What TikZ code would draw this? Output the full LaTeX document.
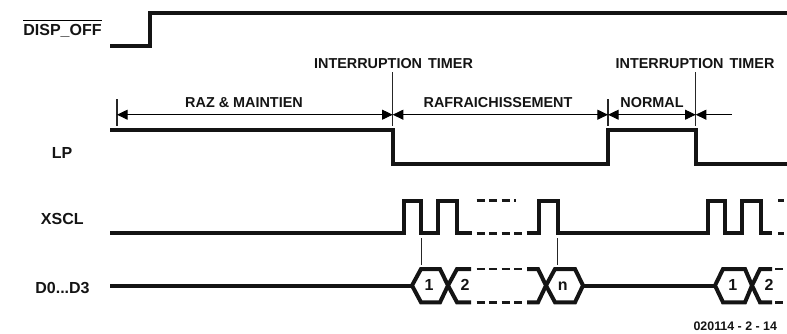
\documentclass[tikz,border=0pt]{standalone}
\usepackage{fontspec}
\setmainfont{Liberation Sans}
\usetikzlibrary{arrows.meta}
\tikzset{
  x=0.75pt,y=-0.75pt,
  signal/.style={line width=3pt,miter limit=10,line join=miter,black!92},
  hexline/.style={line width=3pt,line join=miter,black!92},
  dashline/.style={line width=1.9pt,dash pattern=on 6pt off 3.4pt,black!90},
  thin line/.style={line width=0.8pt,black!85},
  dim/.style={line width=0.7pt,black,{Triangle[length=8pt,width=7.5pt]}-{Triangle[length=8pt,width=7.5pt]}},
  dimright/.style={line width=0.7pt,black,{Triangle[length=8pt,width=7.5pt]}-},
  lab/.style={font=\bfseries\fontsize{10.8pt}{12pt}\selectfont,inner sep=0pt,anchor=base,text=black!92},
  biglab/.style={lab,font=\bfseries\fontsize{12pt}{14pt}\selectfont},
}
\begin{document}
\begin{tikzpicture}
\useasboundingbox (0,0) rectangle (787,333);
% time coordinates
\coordinate (t0) at (117,114.7);
\coordinate (t1) at (392.7,114.7);
\coordinate (t2) at (608,114.7);
\coordinate (t3) at (695.7,114.7);
\coordinate (t4) at (732,114.7);
% labels
\node[biglab] (disp) at (62.5,35) {DISP\_OFF};
\draw[line width=0.8pt] ([yshift=2.6pt]disp.north west) -- ([yshift=2.6pt]disp.north east);
\node[biglab] (lp) at (62,158) {LP};
\node[biglab] (xscl) at (62.3,224) {XSCL};
\node[biglab] (d0) at (62.5,293) {D0...D3};
\node[lab] (it1) at (393.5,68) {INTERRUPTION\ \hspace{1.5pt}TIMER};
\node[lab] (it2) at (695,68) {INTERRUPTION\ \hspace{1.5pt}TIMER};
\node[lab] (raz) at (244,107) {RAZ \& MAINTIEN};
\node[lab] (raf) at (498,107) {RAFRAICHISSEMENT};
\node[lab] (nor) at (652,107) {NORMAL};
\node[lab,font=\bfseries\fontsize{9.3pt}{11pt}\selectfont] (ref) at (735.3,330) {020114 - 2 - 14};
\node[biglab] (h1) at (429,290.7) {1};
\node[biglab] (h2) at (465,290.7) {2};
\node[biglab] (hn) at (562.7,290.7) {n};
\node[biglab] (h3) at (732.7,290.7) {1};
\node[biglab] (h4) at (769,290.7) {2};
% signals
\draw[signal] (110,45.7) -- (150,45.7) -- (150,12.7) -- (787,12.7);
\draw[signal] (110,130) -- (392.7,130) -- (392.7,164) -- (608,164) -- (608,130) -- (695.7,130) -- (695.7,164) -- (787,164);
\draw[signal] (110,233.3) -- (404,233.3) -- (404,200.7) -- (421.3,200.7) -- (421.3,233.3) -- (438,233.3) -- (438,200.7) -- (457,200.7) -- (457,233.3) -- (472,233.3);
\draw[signal] (526.7,233.3) -- (539,233.3) -- (539,200.7) -- (557.7,200.7) -- (557.7,233.3) -- (708,233.3) -- (708,200.7) -- (725,200.7) -- (725,233.3) -- (741.7,233.3) -- (741.7,200.7) -- (761,200.7) -- (761,233.3) -- (772,233.3);
% dashes
\draw[dashline] (476.5,200.7) -- (516,200.7);
\draw[dashline] (476.5,233.3) -- (526,233.3);
\draw[dashline] (476.5,269) -- (526,269);
\draw[dashline] (476.5,302.3) -- (526,302.3);
\draw[dashline] (778,200.7) -- (784,200.7);
\draw[dashline] (778,233.3) -- (784,233.3);
\draw[dashline] (775,269) -- (784,269);
\draw[dashline] (775,302.3) -- (784,302.3);
% bus
\draw[signal] (110,285.5) -- (412,285.5);
\draw[hexline] (471,269) -- (457,269) -- (448,285.5) -- (440,302.3) -- (421,302.3) -- (412,285.5) -- (421,269) -- (440,269) -- (448,285.5) -- (457,302.3) -- (471,302.3);
\draw[hexline] (527,269) -- (538,269) -- (546,285.5) -- (555,302.3) -- (575,302.3) -- (583,285.5) -- (575,269) -- (555,269) -- (546,285.5) -- (538,302.3) -- (527,302.3);
\draw[signal] (583,285.5) -- (715,285.5);
\draw[hexline] (772,269) -- (760,269) -- (752,285.5) -- (745,302.3) -- (723,302.3) -- (715,285.5) -- (723,269) -- (745,269) -- (752,285.5) -- (760,302.3) -- (772,302.3);
% thin verticals
\draw[thin line] (421.7,238) -- (421.7,265);
\draw[thin line] (557.7,238) -- (557.7,265);
% dimension ticks
\draw[thin line] (117,99) -- (117,126);
\draw[thin line] (392.7,72) -- (392.7,126);
\draw[thin line] (608,99) -- (608,126);
\draw[thin line] (695.7,72) -- (695.7,126);
% dimension arrows
\draw[dim] (t0) -- (t1);
\draw[dim] (t1) -- (t2);
\draw[dim] (t2) -- (t3);
\draw[dimright] (t3) -- (t4);
\end{tikzpicture}
\end{document}
